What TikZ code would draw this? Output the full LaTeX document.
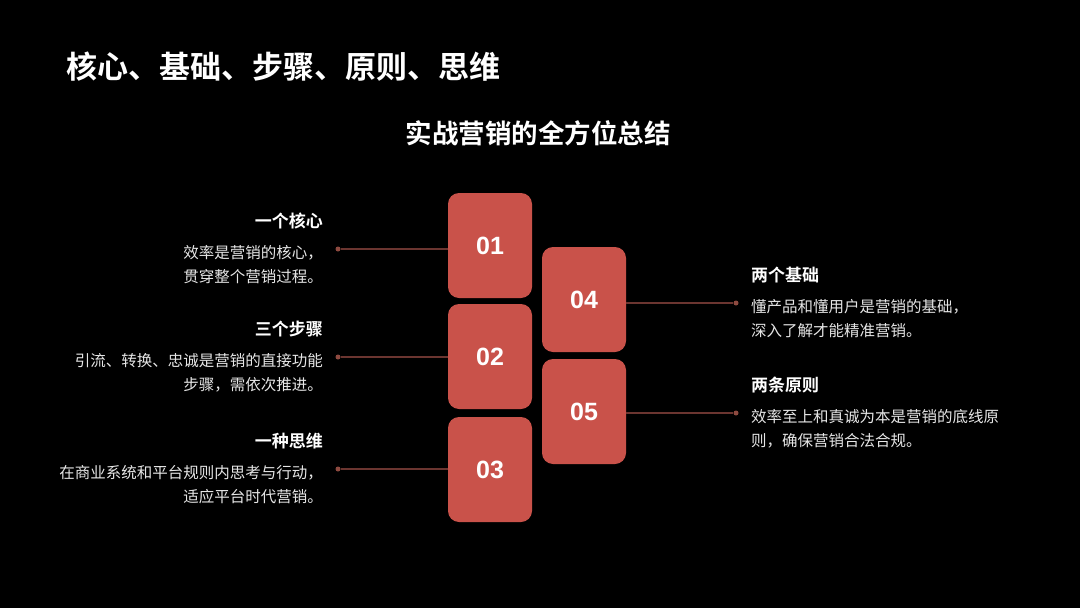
\documentclass[tikz,border=0pt]{standalone}
\usepackage{fontspec}
\setmainfont{Noto Sans CJK SC}
\newfontfamily\cjkb{Noto Sans CJK SC Bold}
\newfontfamily\numf{Liberation Sans Bold}
\definecolor{boxc}{HTML}{C9524A}
\definecolor{linec}{HTML}{6B3530}
\definecolor{dotc}{HTML}{8E4A40}
\definecolor{bodyc}{HTML}{E6E6E6}
\begin{document}
\begin{tikzpicture}[x=1pt,y=-1pt,
  numbox/.style={fill=boxc,rounded corners=11pt,minimum width=84pt,minimum height=105pt,inner sep=0pt,text=white,font=\fontsize{25}{25}\selectfont\numf},
  conn/.style={draw=linec,line width=1.1pt},
  dotn/.style={circle,fill=dotc,inner sep=0pt,minimum size=5pt},
  ttl/.style={text=white,font=\fontsize{17}{20}\selectfont\cjkb,inner sep=0pt},
  body/.style={text=bodyc,font=\fontsize{15.5}{24}\selectfont,inner sep=0pt,align=left}]
\fill[black] (0,0) rectangle (1080,608);
\useasboundingbox (0,0) rectangle (1080,608);
\node[text=white,font=\fontsize{31}{34}\selectfont\cjkb,anchor=west,inner sep=0pt] (h) at (66,67) {核心、基础、步骤、原则、思维};
\node[text=white,font=\fontsize{26.5}{30}\selectfont\cjkb,inner sep=0pt] (s) at (538,133) {实战营销的全方位总结};
\node[numbox] (b1) at (490,245.5) {01};
\node[numbox] (b2) at (490,356.5) {02};
\node[numbox] (b3) at (490,469.5) {03};
\node[numbox] (b4) at (584,299.5) {04};
\node[numbox] (b5) at (584,411.5) {05};
\node[dotn] (d1) at (338,249) {};
\node[dotn] (d2) at (338,357) {};
\node[dotn] (d3) at (338,469) {};
\node[dotn] (d4) at (736,303) {};
\node[dotn] (d5) at (736,413) {};
\draw[conn] (d1) -- (d1 -| b1.west);
\draw[conn] (d2) -- (d2 -| b2.west);
\draw[conn] (d3) -- (d3 -| b3.west);
\draw[conn] (d4) -- (d4 -| b4.east);
\draw[conn] (d5) -- (d5 -| b5.east);
\node[ttl,anchor=east] (t1) at (323,221) {一个核心};
\node[body,anchor=east,align=right] (x1) at (323,265) {效率是营销的核心，\\贯穿整个营销过程。};
\node[ttl,anchor=east] (t2) at (323,329) {三个步骤};
\node[body,anchor=east,align=right] (x2) at (323,373) {引流、转换、忠诚是营销的直接功能\\步骤，需依次推进。};
\node[ttl,anchor=east] (t3) at (323,441) {一种思维};
\node[body,anchor=east,align=right] (x3) at (323,485) {在商业系统和平台规则内思考与行动，\\适应平台时代营销。};
\node[ttl,anchor=west] (t4) at (751,275) {两个基础};
\node[body,anchor=west] (x4) at (751,319) {懂产品和懂用户是营销的基础，\\深入了解才能精准营销。};
\node[ttl,anchor=west] (t5) at (751,385) {两条原则};
\node[body,anchor=west] (x5) at (751,429) {效率至上和真诚为本是营销的底线原\\则，确保营销合法合规。};
\end{tikzpicture}
\end{document}
